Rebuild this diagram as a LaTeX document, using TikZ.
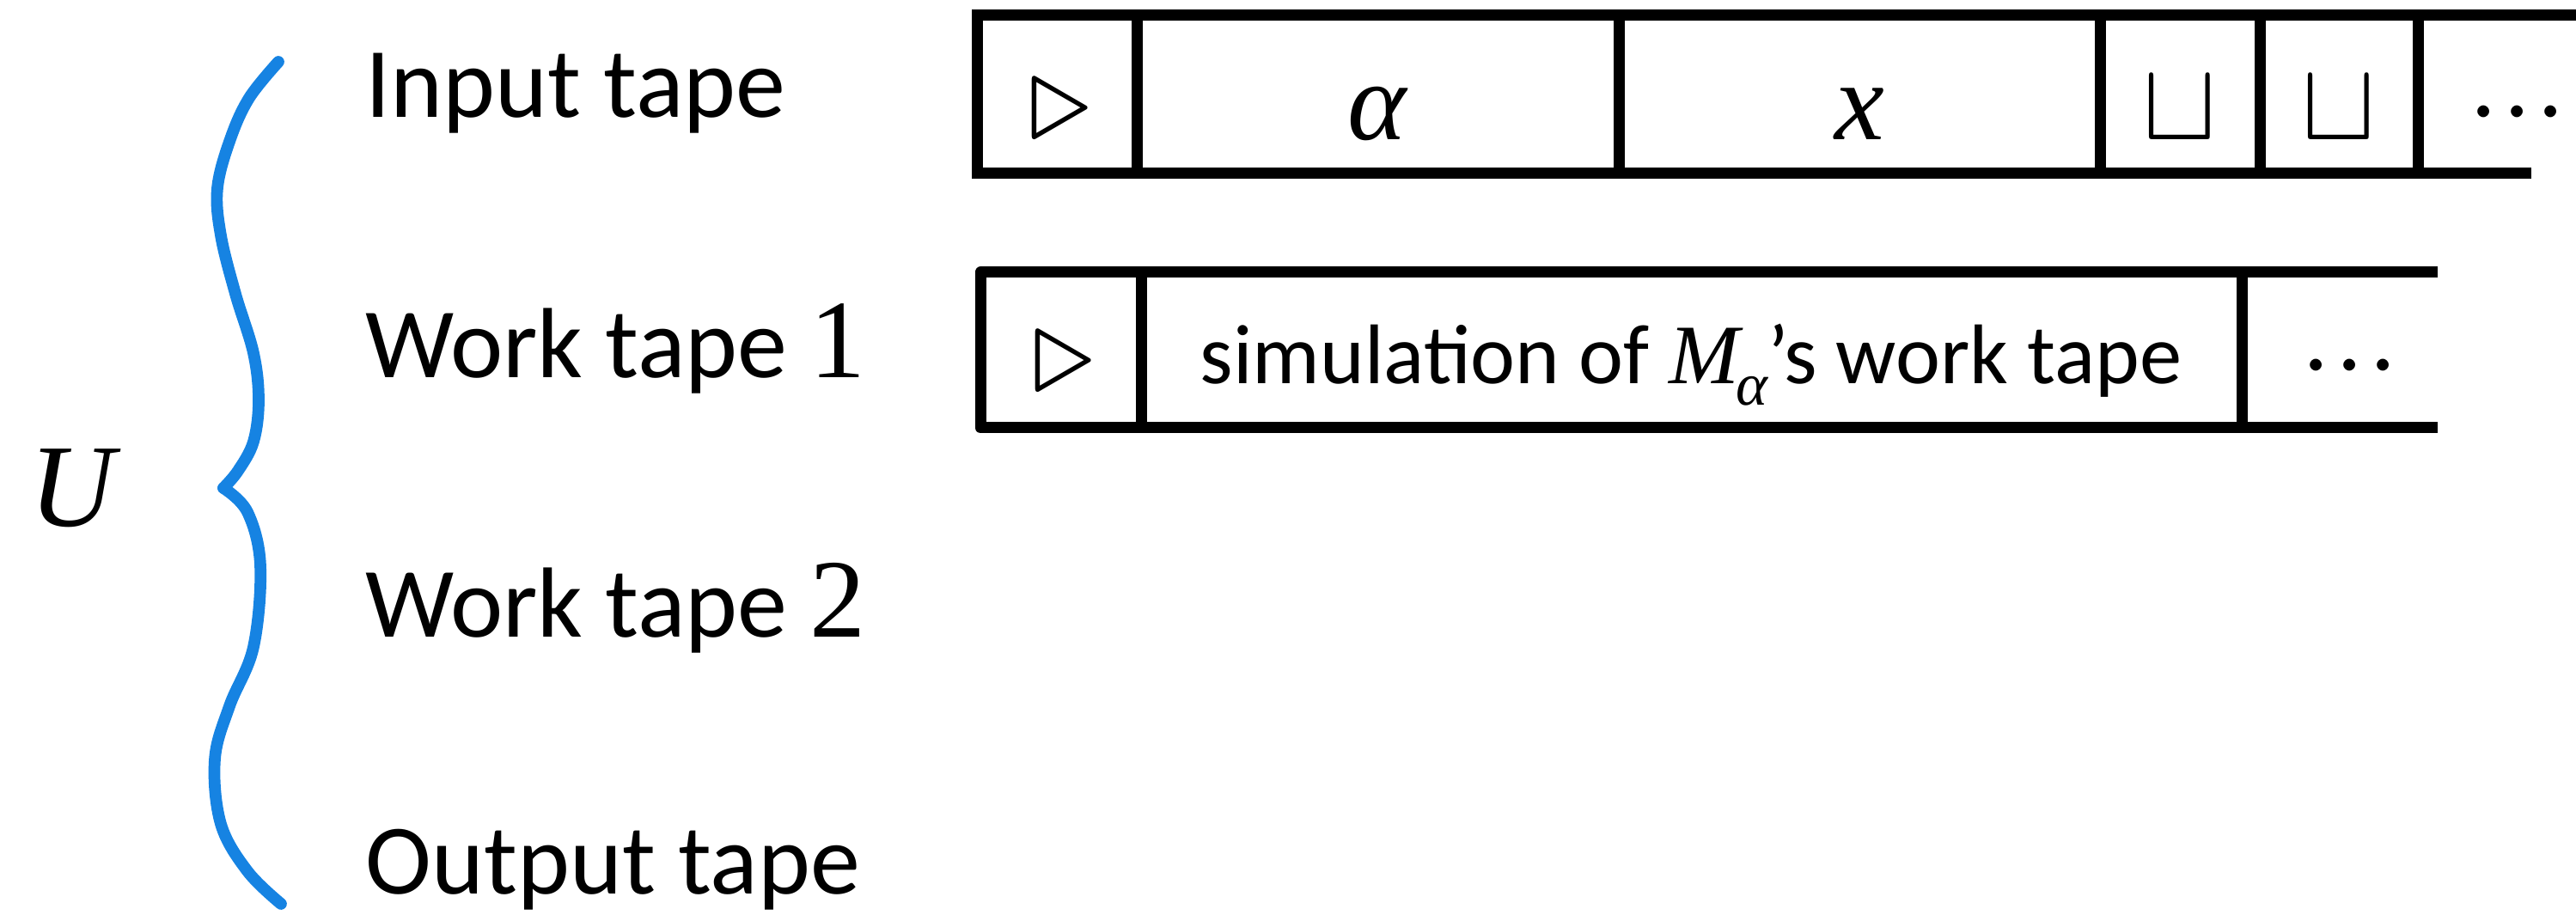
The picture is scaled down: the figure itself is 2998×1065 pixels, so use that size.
\documentclass[tikz,border=0pt]{standalone}
\usepackage{fix-cm}
\usepackage[no-math]{fontspec}
\setmainfont{Carlito}
\newfontfamily\tms{Liberation Serif}
\usetikzlibrary{positioning}

\definecolor{chalk}{RGB}{22,131,226}
% serif italic letters and digits at the larger size
\newcommand{\sym}[1]{{\fontsize{37}{40}\selectfont\tms\itshape #1}}
\newcommand{\dig}[1]{{\fontsize{37}{40}\selectfont\tms #1}}
\newcommand{\tdots}{\cdotp\mkern-2.6mu\cdotp\mkern-2.6mu\cdotp}

\begin{document}
\begin{tikzpicture}[
    x=0.01cm, y=-0.01cm,
    tape/.style={line width=3.7pt},
    cell/.style={anchor=base, inner sep=0pt, font=\fontsize{37}{40}\selectfont},
    lbl/.style={anchor=base west, inner sep=0pt, font=\fontsize{33}{38}\selectfont},
    brace/.style={draw=chalk, line width=3.9pt, line cap=round, line join=round},
]
    \useasboundingbox (0,0) rectangle (2998,1065);

    %==================== LABELS ====================
    \node[anchor=base, inner sep=0pt, font=\fontsize{39}{42}\selectfont\tms\itshape]
        (U) at (84,613) {U};
    \node[lbl] (inlbl)  at (425,137)  {Input tape};
    \node[lbl] (wk1lbl) at (425,440)  {Work tape \dig{1}};
    \node[lbl] (wk2lbl) at (425,742)  {Work tape \dig{2}};
    \node[lbl] (outlbl) at (425,1040) {Output tape};

    %==================== BRACE (chalk) ====================
    \draw[brace] plot[smooth, tension=0.6] coordinates
        {(324,72) (290,114) (268,162) (253,219) (257,274) (274,342)
         (295,411) (301,466) (295,514) (277,548) (260,568)};
    \draw[brace] plot[smooth, tension=0.6] coordinates
        {(260,568) (288,596) (303,658) (295,753) (267,822) (250,884)
         (257,959) (288,1014) (327,1052)};

    %==================== INPUT TAPE ====================
    \draw[tape, line join=miter] (2998,18) -- (1137,18) -- (1137,202) -- (2946,202);
    \foreach \xx in {1323,1884,2444,2630,2814}
        \draw[tape] (\xx,18) -- (\xx,202);

    \node[cell] (in0) at (1234,163) {\fontsize{42}{44}\selectfont$\triangleright$};
    \node[cell] (in1) at (1603,163) {\sym{α}};
    \node[cell] (in2) at (2164,163) {\sym{x}};
    \node[cell] (in3) at (2537,163) {$\sqcup$};
    \node[cell] (in4) at (2722,163) {$\sqcup$};
    \node[cell] (in5) at (2930,163) {$\tdots$};

    %==================== WORK TAPE 1 ====================
    \draw[tape, line join=round] (2837,317) -- (1141,317) -- (1141,498) -- (2837,498);
    \foreach \xx in {1328,2609}
        \draw[tape] (\xx,317) -- (\xx,498);

    \node[cell] (wk0) at (1238,457) {\fontsize{42}{44}\selectfont$\triangleright$};
    \node[cell, font=\fontsize{28}{32}\selectfont] (wk1) at (1968,447)
        {simulation of {\tms\itshape M\kern-1pt\raisebox{-7pt}{\fontsize{20}{22}\selectfont α}}'s work tape};
    \node[cell] (wk2) at (2735,458) {$\tdots$};

\end{tikzpicture}
\end{document}
